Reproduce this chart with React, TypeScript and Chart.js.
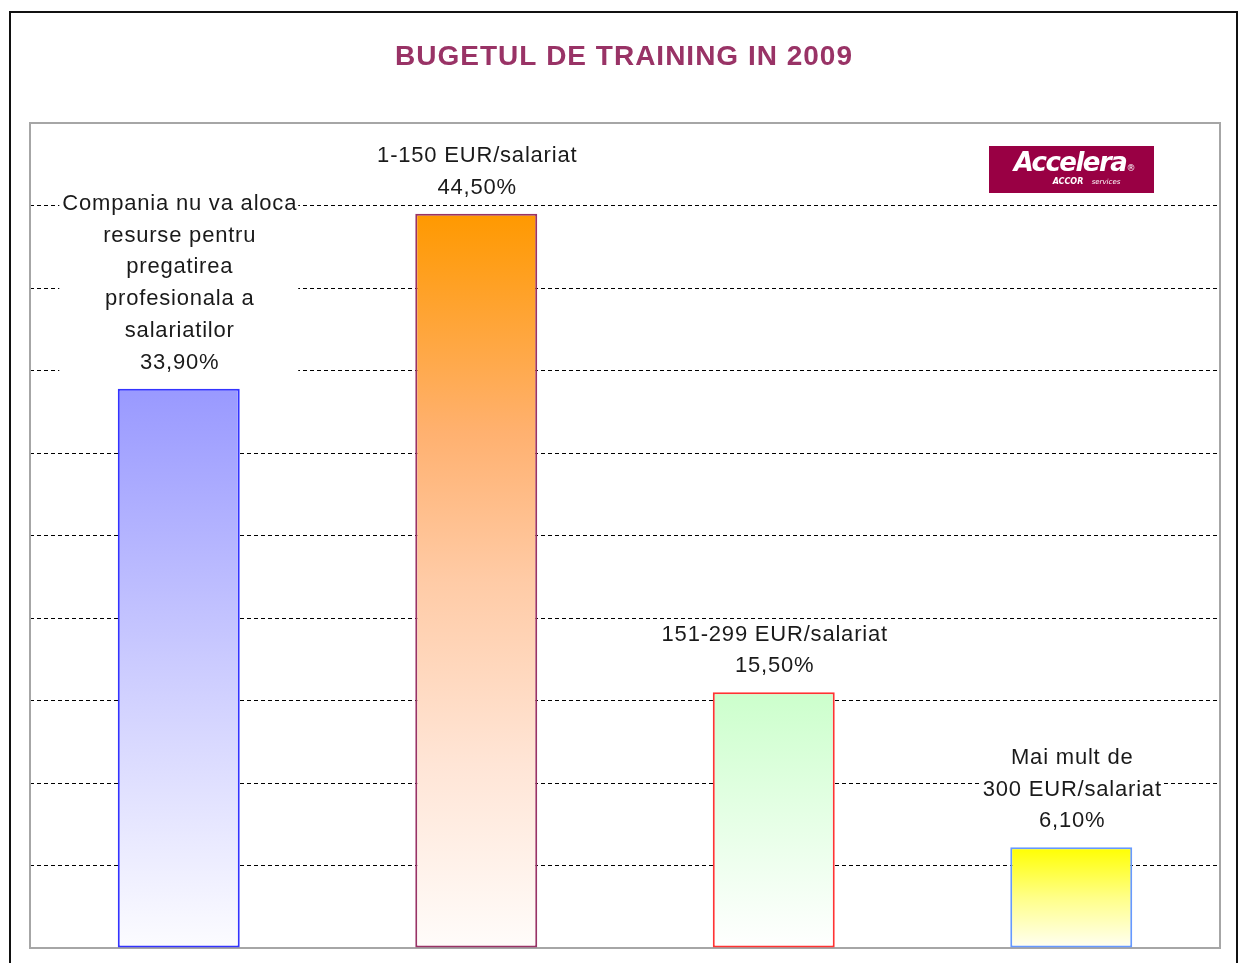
import React, { useEffect, useRef } from "react";
import { Chart, registerables } from "chart.js";

Chart.register(...registerables);

const TITLE = "BUGETUL DE TRAINING IN 2009";

const categories = [
  "Compania nu va aloca resurse pentru pregatirea profesionala a salariatilor",
  "1-150 EUR/salariat",
  "151-299 EUR/salariat",
  "Mai mult de 300 EUR/salariat",
];

const categoryLines = [
  ["Compania nu va aloca", "resurse pentru", "pregatirea", "profesionala a", "salariatilor"],
  ["1-150 EUR/salariat"],
  ["151-299 EUR/salariat"],
  ["Mai mult de", "300 EUR/salariat"],
];

const values = [33.9, 44.5, 15.5, 6.1];
const valueLabels = ["33,90%", "44,50%", "15,50%", "6,10%"];

const yMax = 50;
const yStep = 5;

const gradientStops: [number, string][][] = [
  [[0, "#9999FF"], [0.5, "#CCCCFF"], [1, "#FCFCFF"]],
  [[0, "#FF9900"], [0.3, "#FFB170"], [0.5, "#FFCBA6"], [0.75, "#FFE5D6"], [1, "#FFFCFA"]],
  [[0, "#CCFFCC"], [0.5, "#E6FFE6"], [1, "#FFFFFF"]],
  [[0, "#FFFF00"], [0.5, "#FFFF88"], [1, "#FFFFF4"]],
];
const borderColors = ["#3333FF", "#993366", "#FF3333", "#6699FF"];

const LABEL_FONT = "22px 'Liberation Sans', Arial, sans-serif";
const LINE_H = 31.8;

const decorPlugin = {
  id: "decor",
  beforeDraw(chart: any) {
    const ctx = chart.ctx;
    ctx.save();
    ctx.fillStyle = "#FFFFFF";
    ctx.fillRect(0, 0, chart.width, chart.height);
    // outer frame
    ctx.strokeStyle = "#111111";
    ctx.lineWidth = 2;
    ctx.strokeRect(10, 12, 1227, 1000);
    // title
    ctx.fillStyle = "#993366";
    ctx.font = "bold 28px 'Liberation Sans', Arial, sans-serif";
    (ctx as any).letterSpacing = "1px";
    ctx.textAlign = "center";
    ctx.textBaseline = "middle";
    const a = chart.chartArea;
    ctx.fillText(TITLE, (a.left + a.right) / 2 - 1, 57);
    ctx.restore();
  },
  beforeDatasetsDraw(chart: any) {
    const ctx = chart.ctx;
    const a = chart.chartArea;
    ctx.save();
    ctx.strokeStyle = "#A6A6A6";
    ctx.lineWidth = 2;
    ctx.strokeRect(a.left, a.top, a.right - a.left, a.bottom - a.top);
    ctx.restore();
  },
  afterDatasetsDraw(chart: any) {
    const ctx = chart.ctx;
    const meta = chart.getDatasetMeta(0);
    ctx.save();
    ctx.font = LABEL_FONT;
    (ctx as any).letterSpacing = "0.8px";
    ctx.textAlign = "center";
    ctx.textBaseline = "middle";
    meta.data.forEach((bar: any, i: number) => {
      const lines = [...categoryLines[i], valueLabels[i]];
      const cx = bar.x;
      const lastC = bar.y - 26;
      const firstC = lastC - (lines.length - 1) * LINE_H;
      let w = 0;
      lines.forEach((l) => {
        w = Math.max(w, ctx.measureText(l).width);
      });
      ctx.fillStyle = "#FFFFFF";
      ctx.fillRect(cx - w / 2 - 2, firstC - 14, w + 4, lastC - firstC + 26);
      ctx.fillStyle = "#1A1A1A";
      lines.forEach((l, k) => {
        ctx.fillText(l, cx + 1, firstC + k * LINE_H);
      });
    });
    ctx.restore();

    // logo
    ctx.save();
    ctx.fillStyle = "#990044";
    ctx.fillRect(989, 146, 165, 47);
    ctx.fillStyle = "#FFFFFF";
    ctx.textAlign = "center";
    ctx.textBaseline = "middle";
    ctx.font = "italic bold 26px 'DejaVu Sans', sans-serif";
    (ctx as any).letterSpacing = "-1.5px";
    ctx.fillText("Accelera", 1070, 164);
    ctx.font = "9px 'DejaVu Sans', sans-serif";
    (ctx as any).letterSpacing = "0px";
    ctx.fillText("®", 1131, 169);
    ctx.font = "italic bold 8px 'DejaVu Sans', sans-serif";
    ctx.fillText("ACCOR", 1068, 182);
    ctx.font = "italic 7px 'DejaVu Sans', sans-serif";
    ctx.fillText("services", 1106, 182);
    ctx.restore();
  },
};

export default function App() {
  const ref = useRef<HTMLCanvasElement | null>(null);
  useEffect(() => {
    if (!ref.current) return;
    const chart = new Chart(ref.current, {
      type: "bar",
      data: {
        labels: categories,
        datasets: [
          {
            data: values,
            backgroundColor: (c: any) => {
              const chart = c.chart;
              const i = c.dataIndex;
              if (!chart.chartArea || c.type !== "data" || !chart.scales.y) return gradientStops[i ?? 0][0][1];
              const ys = chart.scales.y;
              const top = ys.getPixelForValue(values[i]);
              const bottom = ys.getPixelForValue(0);
              const g = chart.ctx.createLinearGradient(0, top, 0, bottom);
              gradientStops[i].forEach(([o, col]) => g.addColorStop(o, col));
              return g;
            },
            borderColor: borderColors,
            borderWidth: 2,
            borderSkipped: false,
            barPercentage: 0.41,
            categoryPercentage: 1.0,
          },
        ],
      },
      options: {
        responsive: false,
        animation: false,
        layout: { padding: { left: 30, right: 20, top: 123, bottom: 15 } },
        plugins: {
          legend: { display: false },
          title: { display: false },
          tooltip: { enabled: false },
        },
        scales: {
          x: { display: false },
          y: {
            min: 0,
            max: yMax,
            ticks: { display: false, stepSize: yStep },
            grid: {
              drawTicks: false,
              color: (c: any) => (c.tick && (c.tick.value === 0 || c.tick.value === yMax) ? "rgba(0,0,0,0)" : "#000000"),
              lineWidth: 1,
            },
            border: { display: false, dash: [4, 3] },
          },
        },
      },
      plugins: [decorPlugin],
    });
    return () => chart.destroy();
  }, []);
  return (
    <div style={{ position: "absolute", left: 0, top: 0, width: 1240, height: 963 }}>
      <canvas ref={ref} width={1240} height={963} style={{ display: "block", width: 1240, height: 963 }} />
    </div>
  );
}
